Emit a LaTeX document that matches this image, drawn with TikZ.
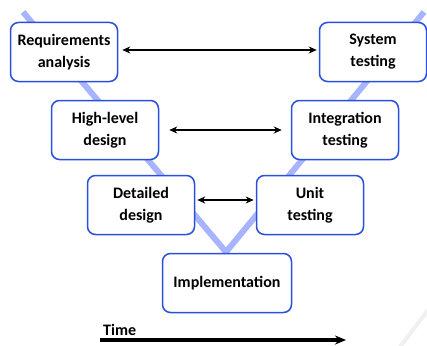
\documentclass[tikz,border=0pt]{standalone}
\usepackage{fontspec}
\setmainfont{Carlito}[BoldFont={Carlito Bold}]
\usepackage{tikz}
\usetikzlibrary{arrows.meta}
\definecolor{vline}{RGB}{168,180,255}
\definecolor{boxblue}{RGB}{40,80,220}
\tikzset{
  % --- phase boxes ------------------------------------------------------------
  phase/.style={rectangle,rounded corners=8pt,draw=boxblue,line width=1.5pt,
                fill=white,minimum width=107pt,minimum height=59pt,align=center,
                font=\fontsize{16}{22}\selectfont\bfseries},
  % --- links ------------------------------------------------------------------
  link/.style={{Stealth[length=8pt,width=7pt]}-{Stealth[length=8pt,width=7pt]},
               line width=1.5pt,black},
  vee/.style={vline,line width=6pt},
}

\begin{document}
\begin{tikzpicture}[x=1pt,y=-1pt]
  \useasboundingbox (0,0) rectangle (427,345);

  % the V behind the boxes
  \coordinate (vl) at (23,12);
  \coordinate (vb) at (226,252);
  \coordinate (vr) at (424,12);
  \draw[vee] (vl) -- (vb) -- (vr);
  \draw[gray!12,line width=4pt] (428,310) -- (400,347);

  \node[phase] (req) at (64,52)   {Requirements\\analysis};
  \node[phase] (sys) at (373,52)  {System\\testing};
  \node[phase] (hld) at (105,130) {High-level\\design};
  \node[phase] (itg) at (345,130) {Integration\\testing};
  \node[phase] (dd)  at (141,205) {Detailed\\design};
  \node[phase] (ut)  at (310,205) {Unit\\testing};
  \node[phase,minimum width=129pt] (imp) at (227,283) {Implementation};

  \draw[link,shorten <=4pt,shorten >=2pt] ([yshift=2pt]req.east) -- ([yshift=2pt]sys.west);
  \draw[link,shorten <=10pt,shorten >=9pt] (hld) -- (itg);
  \draw[link,shorten <=2pt,shorten >=2pt] ([yshift=5pt]dd.east) -- ([yshift=5pt]ut.west);

  % time axis
  \coordinate (t0) at (100,340);
  \coordinate (t1) at (346,340);
  \draw[-{Stealth[length=11pt,width=9pt]},line width=3.2pt] (t0) -- (t1);
  \node[anchor=south west,inner sep=1pt,font=\fontsize{16}{18}\selectfont\bfseries]
    (time) at ([xshift=2pt,yshift=3pt]t0) {Time};
\end{tikzpicture}
\end{document}
